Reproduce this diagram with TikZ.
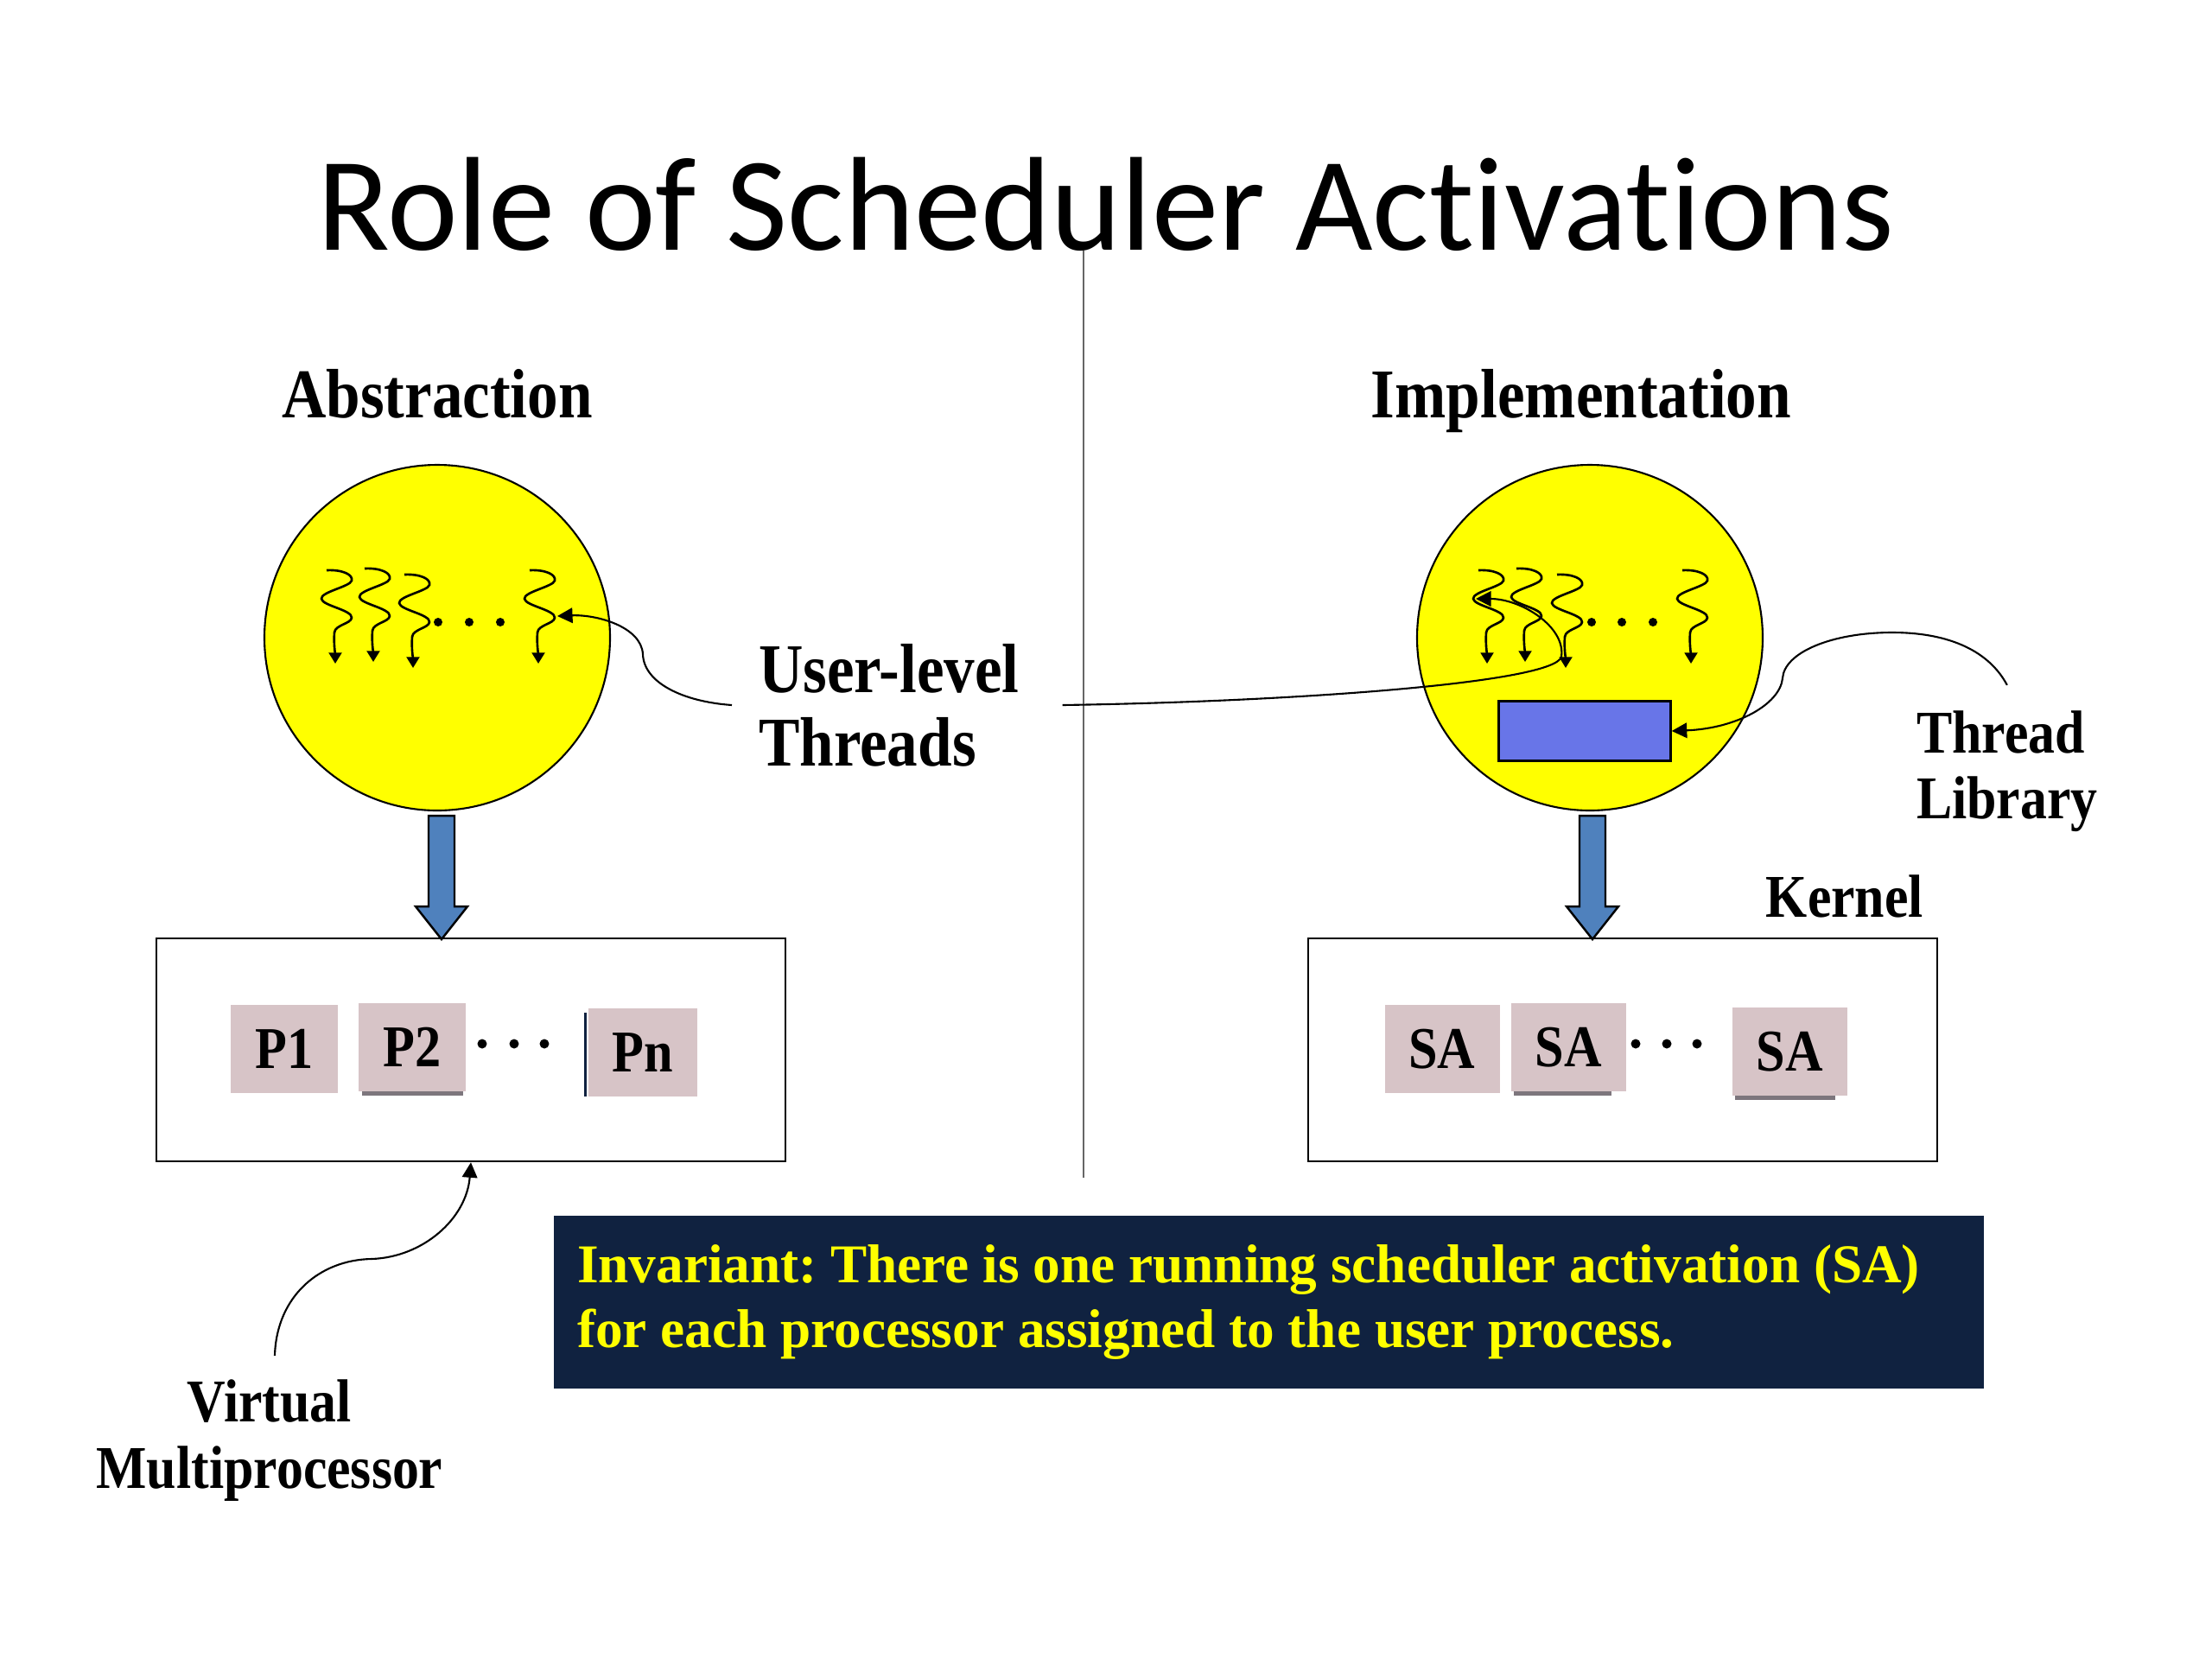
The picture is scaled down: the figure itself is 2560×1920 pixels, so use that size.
\documentclass[tikz,border=0pt]{standalone}
\usepackage{fontspec}
\setmainfont{Liberation Serif}
\newfontfamily\slidefont{Liberation Serif}[FakeStretch=0.88]
\newfontfamily\titlefont{Carlito}[Ligatures=NoCommon]
\usetikzlibrary{positioning,calc,arrows.meta}

\definecolor{ballyellow}{RGB}{255,255,0}
\definecolor{libblue}{RGB}{104,117,232}
\definecolor{arrowblue}{RGB}{79,129,189}
\definecolor{procpink}{RGB}{215,196,199}
\definecolor{navybox}{RGB}{16,34,64}
\definecolor{shadowgray}{RGB}{125,118,125}

\begin{document}
\begin{tikzpicture}[x=0.1mm, y=-0.1mm, line width=0.6pt,
    ball/.style={draw, fill=ballyellow, circle, minimum size=40mm, inner sep=0pt},
    lbl/.style={inner sep=0pt, align=left, font=\slidefont\bfseries\fontsize{23}{24.2}\selectfont},
    sml/.style={inner sep=0pt, align=left, font=\slidefont\bfseries\fontsize{20}{21.7}\selectfont},
    proc/.style={fill=procpink, inner sep=0pt, minimum width=12.4mm, minimum height=10.2mm,
        font=\slidefont\bfseries\fontsize{19.5}{22}\selectfont},
    sabox/.style={proc, minimum width=13.3mm},
    vm/.style={draw, line width=0.7pt, minimum width=72.8mm, minimum height=25.8mm, inner sep=0pt},
    thr/.style={-{Triangle[width=4.2pt,length=3.6pt]}, line width=0.75pt},
    call/.style={-{Triangle[width=5pt,length=5pt]}, line width=0.6pt},
    shade/.style={draw=shadowgray, line width=1.2pt},
    fatarrow/.pic={\draw[fill=arrowblue, line width=0.7pt] (-15,0) -- (15,0) -- (15,105) -- (30,105)
        -- (0,143) -- (-30,105) -- (-15,105) -- cycle;}
]
    \useasboundingbox (0,0) rectangle (2560,1920);

    % title and divider
    \node[font=\titlefont\fontsize{44}{53}\selectfont, anchor=base] (title) at (1280,289) {Role of Scheduler Activations};
    \draw[black!60, line width=0.7pt] (1254,290) -- (1254,1363);

    % user processes
    \node[ball] (lball) at (506,738) {};
    \node[lbl, above=5.3mm of lball, anchor=base] (abst) {Abstraction};
    \node[ball] (rball) at (1840,738) {};
    \node[lbl, above=5.3mm of rball, anchor=base, xshift=-1mm] (impl) {Implementation};

    % threads
    \foreach \tx/\ty in {378/660, 422/658, 468/665, 613/660, 1711/660, 1755/658, 1802/665, 1947/660}
        \draw[thr, shift={(\tx,\ty)}] (0,0) .. controls (18,-1) and (31,5) .. (29,12)
            .. controls (27,19) and (-7,25) .. (-6,33) .. controls (-5,41) and (30,46) .. (29,55)
            .. controls (28,62) and (10,63) .. (9,72) .. controls (8,85) and (10,98) .. (10,108);
    \foreach \dx in {507,543,579,1842,1877,1913} \fill (\dx,720) circle (5);

    \node[draw, fill=libblue, line width=0.7pt, minimum width=19.9mm, minimum height=6.9mm, inner sep=0pt] (tlibbox) at (1834,846) {};

    % down arrows
    \pic at ([xshift=0.5mm,yshift=-0.5mm]lball.south) {fatarrow};
    \pic at ([xshift=0.3mm,yshift=-0.5mm]rball.south) {fatarrow};

    % processors and activations
    \node[vm] (lbox) at (545,1215) {};
    \node[vm] (rbox) at (1878,1215) {};

    \node[proc] (pone) at (329,1214) {P1};
    \node[proc, right=2.2mm of pone, yshift=0.2mm] (ptwo) {P2};
    \node[proc, minimum width=12.6mm] (pn) at (744,1218) {Pn};
    \node[sabox] (saone) at (1669,1214) {SA};
    \node[sabox, right=1.1mm of saone, yshift=0.2mm] (satwo) {SA};
    \node[sabox] (sann) at (2071,1217) {SA};
    \foreach \dx in {558,595,630,1893,1929,1964} \fill (\dx,1208) circle (5.5);

    \draw[shade] ([xshift=0.5mm,yshift=-0.15mm]ptwo.south west) -- ([xshift=-0.4mm,yshift=-0.15mm]ptwo.south east);
    \draw[shade] ([xshift=0.4mm,yshift=-0.15mm]satwo.south west) -- ([xshift=-1.8mm,yshift=-0.15mm]satwo.south east);
    \draw[shade] ([xshift=0.5mm,yshift=-0.15mm]sann.south west) -- ([xshift=-1.5mm,yshift=-0.15mm]sann.south east);
    \draw[navybox, line width=0.8pt] ([xshift=-0.25mm,yshift=0.1mm]pn.south west) -- ([xshift=-0.25mm,yshift=-0.6mm]pn.north west);

    % labels
    \node[lbl, anchor=west] (ult) at (877,816) {User-level\\Threads};
    \node[sml, anchor=west] (tlib) at (2217,893) {Thread\\Library};
    \node[sml, anchor=base east] (kern) at (2227,1061) {Kernel};
    \node[sml, align=center] (vmp) at (312,1667) {Virtual\\Multiprocessor};

    \coordinate (lthr) at (645,713);
    \coordinate (rthr) at (1708,693);

    % callouts
    \draw[call] ([xshift=-3mm]ult.west) .. controls (790,812) and (745,790) .. (744,757)
        .. controls (742,725) and (690,711) .. (lthr);
    \draw[call] ([xshift=4.9mm]ult.east) .. controls (1500,812) and (1800,790) .. (1807,760)
        .. controls (1812,725) and (1760,693) .. (rthr);
    \draw[call] ([yshift=2.9mm]tlib.north) .. controls (2300,750) and (2250,732) .. (2190,732)
        .. controls (2120,732) and (2065,755) .. (2063,785)
        .. controls (2060,815) and (2010,843) .. (tlibbox.east);
    \draw[call] ([xshift=0.6mm,yshift=2.7mm]vmp.north) .. controls (320,1500) and (370,1458) .. (430,1457)
        .. controls (490,1455) and (540,1410) .. (lbox.south);

    % invariant
    \node[fill=navybox, minimum width=165.5mm, minimum height=20mm, text width=160mm, align=flush left, text=ballyellow,
        font=\frenchspacing\bfseries\fontsize{18}{21.6}\selectfont] (inv) at (1468,1507)
        {Invariant: There is one running scheduler activation (SA)\\for each processor assigned to the user process.};
\end{tikzpicture}
\end{document}
